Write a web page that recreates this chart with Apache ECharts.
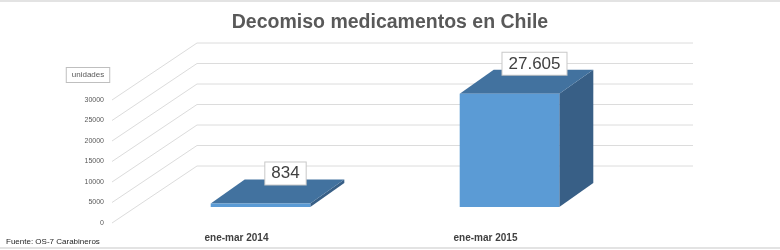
<!DOCTYPE html>
<html>
<head>
<meta charset="utf-8">
<script src="https://cdn.jsdelivr.net/npm/echarts@6/dist/echarts.min.js"></script>
<style>
html,body{margin:0;padding:0;background:#fff;}
#c{width:780px;height:250px;}
</style>
</head>
<body>
<div id="c"></div>
<script>
var categories = ['ene-mar 2014', 'ene-mar 2015'];
var values = [834, 27605];
var yTicks = [0, 5000, 10000, 15000, 20000, 25000, 30000];

function fmt(v) { return String(v).replace(/\B(?=(\d{3})+(?!\d))/g, '.'); }

// depth offsets (pixels)
var WALL = [85, -57];
var BAR_FRONT = [24, -16];
var BAR_BACK = [58, -40];

var chart = echarts.init(document.getElementById('c'));
chart.setOption({
  backgroundColor: '#ffffff',
  animation: false,
  title: {
    text: 'Decomiso medicamentos en Chile',
    left: 'center', top: 8,
    textStyle: { fontFamily: 'Liberation Sans', fontWeight: 'bold', fontSize: 19.5, color: '#595959' }
  },
  graphic: [
    { type: 'rect', shape: { x: 0, y: 0, width: 780, height: 2 }, style: { fill: '#e3e3e3' } },
    { type: 'rect', shape: { x: 0, y: 247, width: 780, height: 2 }, style: { fill: '#e3e3e3' } },
    { type: 'text', x: 88, y: 75, style: { text: 'unidades', align: 'center', verticalAlign: 'middle',
      fontFamily: 'Liberation Sans', fontSize: 8, fill: '#595959', backgroundColor: '#fff',
      borderColor: '#bfbfbf', borderWidth: 1, padding: [3, 5] } },
    { type: 'text', x: 6, y: 242, style: { text: 'Fuente: OS-7 Carabineros', verticalAlign: 'middle',
      fontFamily: 'Liberation Sans', fontSize: 8, fill: '#1f1f1f' } }
  ],
  grid: { left: 112, right: 170, top: 100, bottom: 27 },
  xAxis: {
    type: 'category', data: categories,
    axisLine: { show: false }, axisTick: { show: false },
    axisLabel: { margin: 10, fontFamily: 'Liberation Sans', fontWeight: 'bold', fontSize: 10, color: '#404040' }
  },
  yAxis: {
    type: 'value', min: 0, max: 30000, interval: 5000,
    axisLine: { show: false }, axisTick: { show: false }, splitLine: { show: false },
    axisLabel: { margin: 8, fontFamily: 'Liberation Sans', fontSize: 7, color: '#595959',
      formatter: function (v) { return String(v); } }
  },
  series: [
    {
      type: 'custom', z: 1, silent: true, clip: false,
      data: yTicks.map(function (t) { return [0, t]; }),
      renderItem: function (params, api) {
        var cs = params.coordSys;
        var y = api.coord([0, api.value(1)])[1];
        var x0 = cs.x;
        var bx = x0 + WALL[0], by = y + WALL[1];
        return {
          type: 'group',
          children: [
            { type: 'line', shape: { x1: x0, y1: y, x2: bx, y2: by }, style: { stroke: '#dcdcdc', lineWidth: 1 } },
            { type: 'line', shape: { x1: bx, y1: by, x2: bx + cs.width - 2, y2: by }, style: { stroke: '#dcdcdc', lineWidth: 1 } }
          ]
        };
      }
    },
    {
      type: 'custom', z: 2, silent: true, clip: false,
      data: values.map(function (v, i) { return [i, v]; }),
      renderItem: function (params, api) {
        var i = api.value(0), v = api.value(1);
        var top = api.coord([i, v]);
        var base = api.coord([i, 0]);
        var bw = api.size([1, 0])[0] * 0.4;
        var xl = top[0] - bw / 2 + BAR_FRONT[0];
        var xr = xl + bw;
        var yt = top[1] + BAR_FRONT[1];
        var yb = base[1] + BAR_FRONT[1];
        var dx = BAR_BACK[0] - BAR_FRONT[0], dy = BAR_BACK[1] - BAR_FRONT[1];
        return {
          type: 'group',
          children: [
            { type: 'polygon', shape: { points: [[xr, yt], [xr + dx, yt + dy], [xr + dx, yb + dy], [xr, yb]] },
              style: { fill: '#385f86' } },
            { type: 'polygon', shape: { points: [[xl, yt], [xr, yt], [xr + dx, yt + dy], [xl + dx, yt + dy]] },
              style: { fill: '#42729f' } },
            { type: 'rect', shape: { x: xl, y: yt, width: bw, height: yb - yt },
              style: { fill: '#5b9bd5' } },
            { type: 'text', x: top[0] + BAR_FRONT[0] + 25, y: yt - 30,
              style: { text: fmt(v), align: 'center', verticalAlign: 'middle',
                fontFamily: 'Liberation Sans', fontSize: 17, fill: '#404040',
                backgroundColor: '#ffffff', borderColor: '#c8c8c8', borderWidth: 1, padding: [3, 6, 2, 6] } }
          ]
        };
      }
    }
  ]
});
</script>
</body>
</html>
